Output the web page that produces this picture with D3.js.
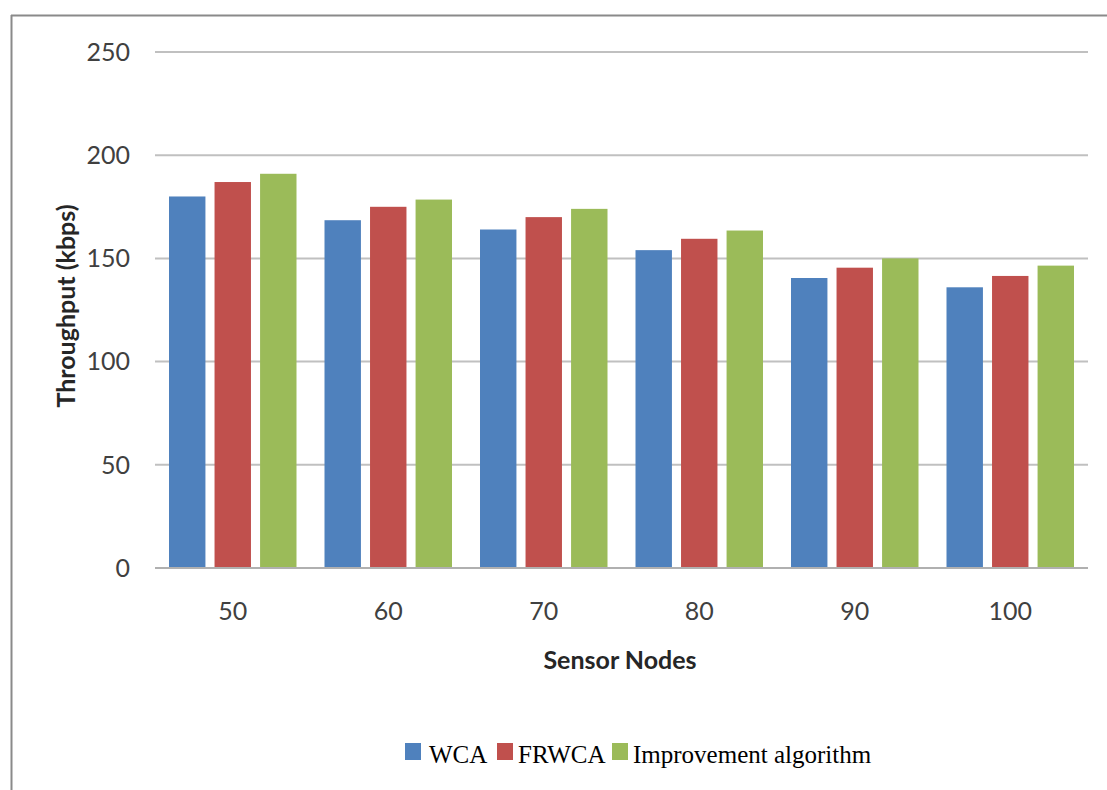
<!DOCTYPE html>
<html><head><meta charset="utf-8">
<script src="https://cdn.jsdelivr.net/npm/d3@7"></script>
<style>body{margin:0;background:#fff}svg{display:block}</style>
</head><body>
<script>
const categories = ["50","60","70","80","90","100"];
const seriesNames = ["WCA","FRWCA","Improvement algorithm"];
const wca   = [180, 168.5, 164, 154, 140.5, 136];
const frwca = [187, 175, 170, 159.5, 145.5, 141.5];
const impr  = [191, 178.5, 174, 163.5, 150, 146.5];
const yTicks = [0, 50, 100, 150, 200, 250];
const colors = ["#4F81BD", "#C0504D", "#9BBB59"];

(function(){
const W = 1107, H = 790;
const svg = d3.select("body").append("svg").attr("width", W).attr("height", H);

// outer frame (top and left visible)
svg.append("line").attr("x1",11).attr("x2",W).attr("y1",15.5).attr("y2",15.5).attr("stroke","#8a8a8a").attr("stroke-width",2);
svg.append("line").attr("x1",11.5).attr("x2",11.5).attr("y1",15).attr("y2",H).attr("stroke","#8a8a8a").attr("stroke-width",2);

const pl = 155, pr = 1088, pt = 52, pb = 568;
const x0 = d3.scaleBand().domain(categories).range([pl, pr]).padding(0);
const x1 = d3.scaleBand().domain(seriesNames).range([14, x0.bandwidth() - 14]).paddingInner(0.2).paddingOuter(0);
const y = d3.scaleLinear().domain([0, 250]).range([pb, pt]);

const font = "Lato, 'Open Sans', sans-serif";

// gridlines
svg.append("g").selectAll("line").data(yTicks).join("line")
  .attr("x1", pl).attr("x2", pr)
  .attr("y1", d => y(d)).attr("y2", d => y(d))
  .attr("stroke", "#c0c0c0").attr("stroke-width", 2);

// y labels
svg.append("g").selectAll("text").data(yTicks).join("text")
  .attr("x", 130).attr("y", d => y(d)).attr("dy", "0.35em")
  .attr("text-anchor", "end").attr("font-family", font).attr("font-size", 25).attr("fill", "#404040")
  .text(d => d);

const data = categories.map((c, i) => ({cat: c, vals: [wca[i], frwca[i], impr[i]]}));
const groups = svg.append("g").selectAll("g").data(data).join("g")
  .attr("transform", d => `translate(${x0(d.cat)},0)`);
groups.selectAll("rect").data(d => d.vals.map((v, j) => ({name: seriesNames[j], v, j}))).join("rect")
  .attr("x", d => x1(d.name)).attr("width", x1.bandwidth())
  .attr("y", d => y(d.v)).attr("height", d => y(0) - y(d.v))
  .attr("fill", d => colors[d.j]);

// baseline
svg.append("line").attr("x1", pl).attr("x2", pr).attr("y1", y(0)).attr("y2", y(0))
  .attr("stroke", "#b0b0b0").attr("stroke-width", 2);

// x labels
svg.append("g").selectAll("text").data(categories).join("text")
  .attr("x", d => x0(d) + x0.bandwidth()/2).attr("y", 620)
  .attr("text-anchor", "middle").attr("font-family", font).attr("font-size", 25).attr("fill", "#404040")
  .text(d => d);

// axis titles
svg.append("text").attr("x", 620).attr("y", 669).attr("text-anchor","middle")
  .attr("font-family", font).attr("font-size", 25).attr("font-weight","bold").attr("fill","#262626")
  .text("Sensor Nodes");
svg.append("text").attr("transform", `translate(75,306) rotate(-90)`).attr("text-anchor","middle")
  .attr("font-family", font).attr("font-size", 25).attr("font-weight","bold").attr("fill","#262626")
  .text("Throughput (kbps)");

// legend
const legX = [405, 497, 612];
const leg = svg.append("g").selectAll("g").data(seriesNames).join("g")
  .attr("transform", (d,i) => `translate(${legX[i]},743)`);
leg.append("rect").attr("width", 16).attr("height", 17).attr("fill", (d,i) => colors[i]);
leg.append("text").attr("x", (d,i) => i === 0 ? 24 : 21).attr("y", 20)
  .attr("font-family", "'Liberation Serif', 'Times New Roman', serif").attr("font-size", 25).attr("fill", "#000")
  .text(d => d);
})();
</script>
</body></html>
